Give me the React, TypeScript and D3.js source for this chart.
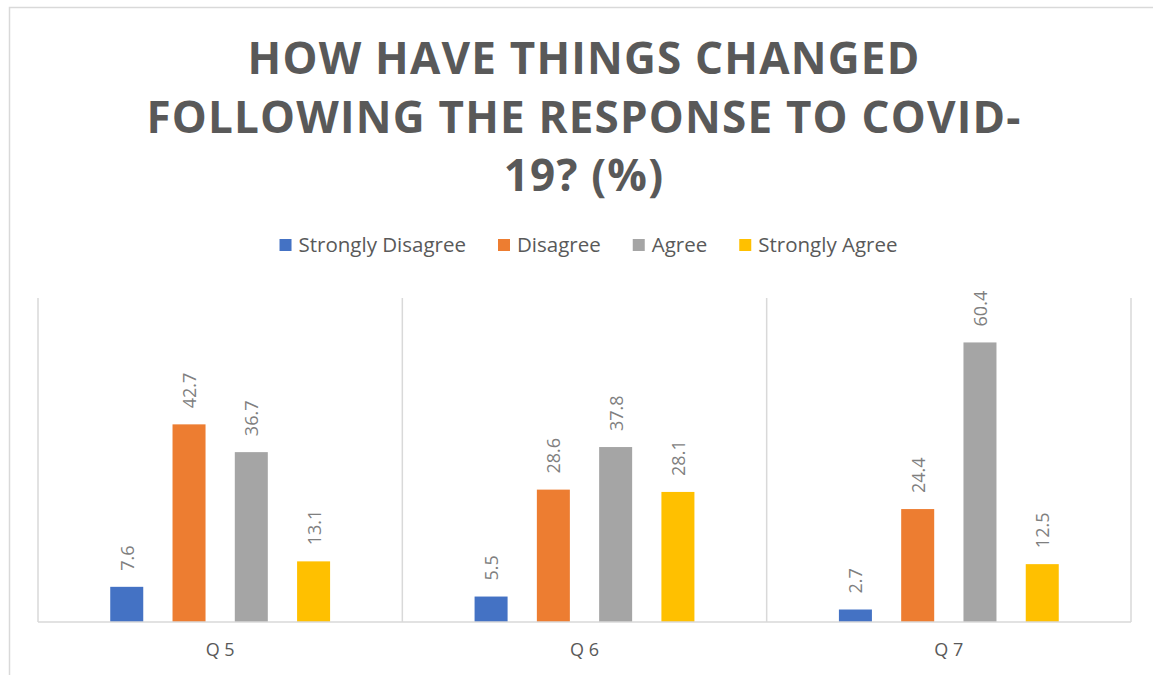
import React, { useEffect, useRef } from "react";
import * as d3 from "d3";

const categories = ["Q 5", "Q 6", "Q 7"];
const seriesNames = ["Strongly Disagree", "Disagree", "Agree", "Strongly Agree"];
const stronglyDisagree = [7.6, 5.5, 2.7];
const disagree = [42.7, 28.6, 24.4];
const agree = [36.7, 37.8, 60.4];
const stronglyAgree = [13.1, 28.1, 12.5];
const seriesColors = ["#4472C4", "#ED7D31", "#A5A5A5", "#FFC000"];
const titleLines = ["HOW HAVE THINGS CHANGED", "FOLLOWING THE RESPONSE TO COVID-", "19? (%)"];
const yMax = 70;

export default function App() {
  const ref = useRef<SVGSVGElement>(null);
  useEffect(() => {
    const svg = d3.select(ref.current);
    svg.selectAll("*").remove();
    const W = 1153, H = 675;
    const left = 38, right = 1131, top = 298, bottom = 622;
    const seriesValues = [stronglyDisagree, disagree, agree, stronglyAgree];

    svg.append("rect").attr("x", 0).attr("y", 0).attr("width", W).attr("height", H).attr("fill", "#fff");
    svg.append("rect").attr("x", 9.5).attr("y", 7.5).attr("width", 1160).attr("height", 700)
      .attr("fill", "none").attr("stroke", "#d9d9d9").attr("stroke-width", 1.5);

    // title
    const title = svg.append("g");
    titleLines.forEach((t, i) => {
      title.append("text").attr("x", 584).attr("y", 74 + i * 58.5).attr("text-anchor", "middle")
        .attr("font-family", "'Open Sans', sans-serif").attr("font-weight", 700).attr("font-size", 44)
        .attr("letter-spacing", 1.2).attr("fill", "#595959").text(t);
    });

    const x0 = d3.scaleBand<string>().domain(categories).range([left, right]);
    const x1 = d3.scaleBand<string>().domain(seriesNames).range([0, x0.bandwidth()])
      .paddingInner(0.47).paddingOuter(1.16);
    const y = d3.scaleLinear().domain([0, yMax]).range([bottom, top]);

    // grid separators
    const g = svg.append("g");
    categories.forEach((c) => {
      g.append("line").attr("x1", x0(c)!).attr("x2", x0(c)!).attr("y1", top).attr("y2", bottom)
        .attr("stroke", "#d9d9d9").attr("stroke-width", 1.5);
    });
    g.append("line").attr("x1", right).attr("x2", right).attr("y1", top).attr("y2", bottom)
      .attr("stroke", "#d9d9d9").attr("stroke-width", 1.5);

    // bars
    categories.forEach((c, ci) => {
      seriesNames.forEach((s, si) => {
        const v = seriesValues[si][ci];
        const bx = x0(c)! + x1(s)!;
        g.append("rect").attr("x", bx).attr("y", y(v)).attr("width", x1.bandwidth())
          .attr("height", bottom - y(v)).attr("fill", seriesColors[si]);
        const cx = bx + x1.bandwidth() / 2;
        const ty = y(v) - 16;
        g.append("text").attr("transform", `translate(${cx},${ty}) rotate(-90)`)
          .attr("dominant-baseline", "central").attr("text-anchor", "start")
          .attr("font-family", "'Open Sans', sans-serif").attr("font-size", 18)
          .attr("fill", "#7f7f7f").text(v.toFixed(1));
      });
      g.append("text").attr("x", x0(c)! + x0.bandwidth() / 2).attr("y", 656).attr("text-anchor", "middle")
        .attr("font-family", "'Open Sans', sans-serif").attr("font-size", 18).attr("fill", "#595959").text(c);
    });

    g.append("line").attr("x1", left).attr("x2", right).attr("y1", bottom).attr("y2", bottom)
      .attr("stroke", "#d9d9d9").attr("stroke-width", 1.5);

    // legend
    const lg = svg.append("g");
    const items = seriesNames.map((s, i) => {
      const it = lg.append("g");
      it.append("rect").attr("x", 0).attr("y", -6).attr("width", 12).attr("height", 12).attr("fill", seriesColors[i]);
      const t = it.append("text").attr("x", 19).attr("y", 7)
        .attr("font-family", "'Open Sans', sans-serif").attr("font-size", 20.5).attr("fill", "#595959").text(s);
      const w = 19 + (t.node() as SVGTextElement).getComputedTextLength();
      return { it, w };
    });
    const gap = 32;
    const total = d3.sum(items, (d) => d.w) + gap * (items.length - 1);
    let cx = 588.5 - total / 2;
    items.forEach((d) => {
      d.it.attr("transform", `translate(${cx},245)`);
      cx += d.w + gap;
    });
  }, []);
  return (
    <svg ref={ref} width={1153} height={675} style={{ position: "absolute", left: 0, top: 0, display: "block" }} />
  );
}
